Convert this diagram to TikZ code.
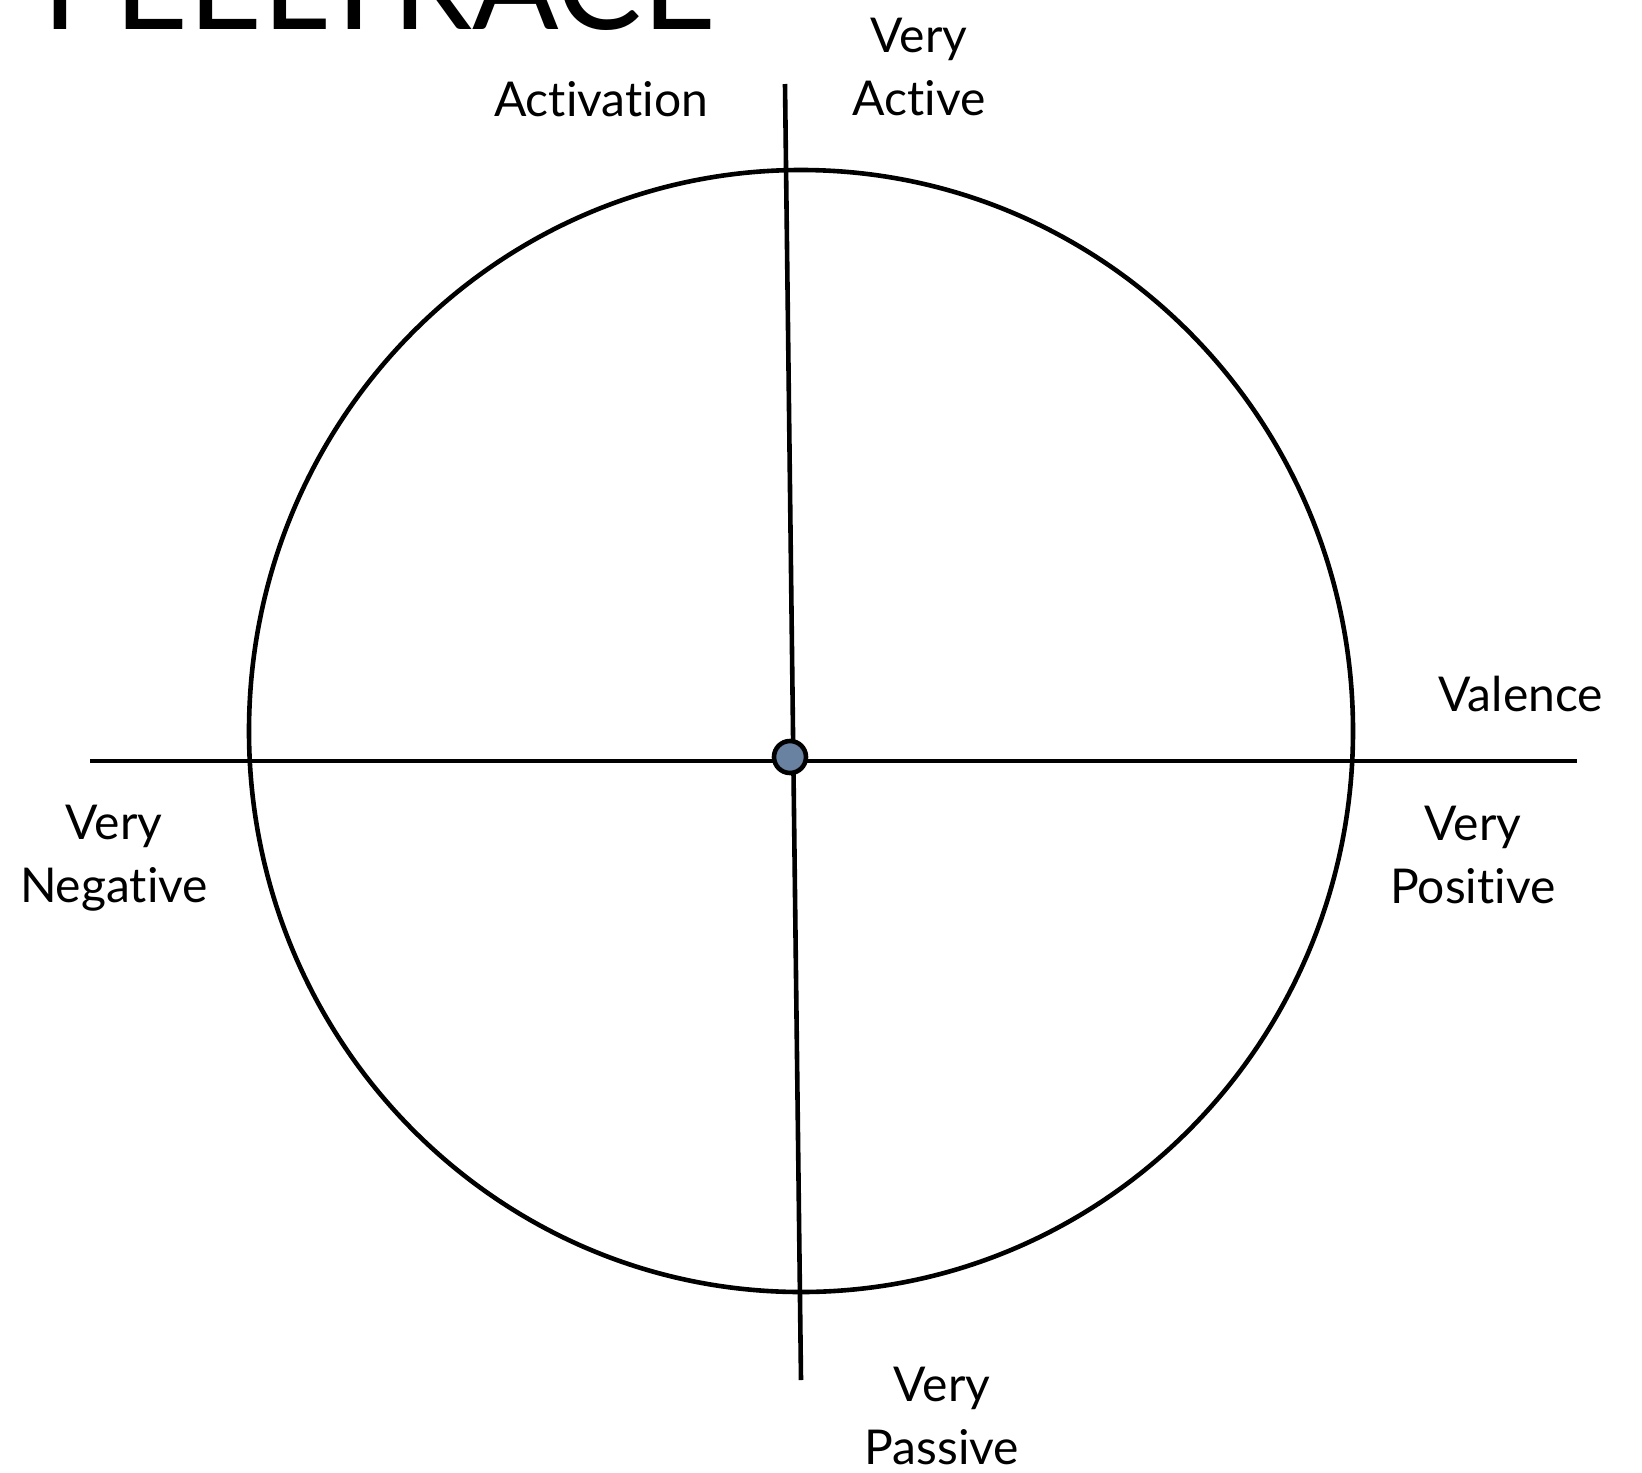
\documentclass[tikz,border=0pt]{standalone}
\usepackage{fontspec}
\setmainfont{Lato}[Ligatures=NoCommon]
\usepackage{tikz}
\usetikzlibrary{shapes.geometric, positioning, calc}
\definecolor{SlateDot}{HTML}{6A82A2}
\tikzset{
  % Axis line
  axis/.style={
    line width=4.6pt, draw=black
  },
  % Big circle
  ring/.style={
    ellipse, draw=black, line width=4.6pt,
    minimum width=1104pt, minimum height=1122pt,
    inner sep=0pt
  },
  % Centre dot
  dot/.style={
    circle, draw=black, line width=4.6pt,
    fill=SlateDot, minimum size=32pt, inner sep=0pt
  },
  % Axis labels
  label_text/.style={
    align=center, inner sep=0pt,
    font=\fontsize{48}{63}\selectfont
  }
}
\begin{document}
\begin{tikzpicture}[x=1pt, y=-1pt]
\useasboundingbox (0,0) rectangle (1642,1473);

% Title
\node[anchor=base west, inner sep=0pt,
      font=\fontsize{128}{134}\selectfont] (title) at (42,29) {FEELTRACE};

% Circle
\node[ring] (circle) at (801,731) {};

% Axes
\coordinate (valence_left)   at (90,761);
\coordinate (valence_right)  at (1577,761);
\coordinate (activ_top)      at (785,84);
\coordinate (activ_bottom)   at (801,1380);
\draw[axis] (valence_left) -- (valence_right);
\draw[axis] (activ_top)    -- (activ_bottom);

% Neutral point
\node[dot] (origin) at (790,757) {};

% Labels
\node[label_text] (activation)    at (601,99)   {Activation};
\node[label_text] (very_active)   at (919,67)   {Very\\Active};
\node[label_text] (valence)       at (1521,694) {Valence};
\node[label_text] (very_negative) at (114,858)  {Very\\Negative};
\node[label_text] (very_positive) at (1473,855) {Very\\Positive};
\node[label_text] (very_passive)  at (942,1416) {Very\\Passive};

\end{tikzpicture}
\end{document}
